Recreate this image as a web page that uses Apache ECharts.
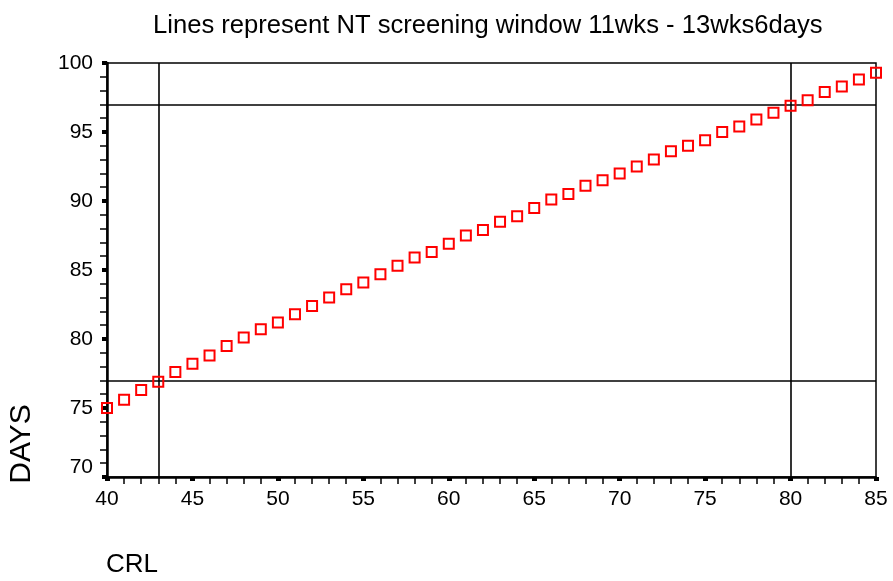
<!DOCTYPE html>
<html>
<head>
<meta charset="utf-8">
<script src="https://cdn.jsdelivr.net/npm/echarts@6/dist/echarts.min.js"></script>
<style>html,body{margin:0;padding:0;background:#fff;}#c{width:893px;height:581px;}</style>
</head>
<body>
<div id="c"></div>
<script>
var crl = [40,41,42,43,44,45,46,47,48,49,50,51,52,53,54,55,56,57,58,59,60,61,62,63,64,65,66,67,68,69,70,71,72,73,74,75,76,77,78,79,80,81,82,83,84,85];
var days = [75.0,75.6,76.3,76.9,77.6,78.2,78.8,79.5,80.1,80.7,81.2,81.8,82.4,83.0,83.6,84.1,84.7,85.3,85.9,86.3,86.9,87.5,87.9,88.5,88.9,89.5,90.1,90.5,91.1,91.5,92.0,92.5,93.0,93.6,94.0,94.4,95.0,95.4,95.9,96.4,96.9,97.3,97.9,98.3,98.8,99.3];
var windowCRL = [43, 80];
var windowDays = [77, 97];
var titleText = 'Lines represent NT screening window 11wks - 13wks6days';
var xName = 'CRL';
var yName = 'DAYS';

var font = '"Liberation Sans", Arial, sans-serif';
var chart = echarts.init(document.getElementById('c'));
var pts = crl.map(function (x, i) { return [x, days[i]]; });
var mlData = windowCRL.map(function (v) { return { xAxis: v }; })
  .concat(windowDays.map(function (v) { return { yAxis: v }; }));

chart.setOption({
  animation: false,
  backgroundColor: '#fff',
  title: {
    text: titleText, left: 148, top: 8,
    textStyle: { fontFamily: font, fontSize: 25.6, fontWeight: 'normal', color: '#000' }
  },
  grid: { left: 107, right: 17, top: 63, bottom: 104, show: true, borderColor: '#000', borderWidth: 1.5, backgroundColor: 'transparent' },
  xAxis: {
    type: 'value', min: 40, max: 85, interval: 5,
    axisLine: { show: true, lineStyle: { color: '#000', width: 2.5 } },
    axisTick: { show: true, inside: false, length: 4, lineStyle: { color: '#000', width: 5 } },
    minorTick: { show: true, splitNumber: 5, length: 7, lineStyle: { color: '#000', width: 1.5 } },
    axisLabel: { margin: 12, fontFamily: font, fontSize: 21, color: '#000' },
    splitLine: { show: false }
  },
  yAxis: {
    type: 'value', min: 70, max: 100, interval: 5,
    axisLine: { show: true, lineStyle: { color: '#000', width: 2.5 } },
    axisTick: { show: true, inside: false, length: 5, lineStyle: { color: '#000', width: 4 } },
    minorTick: { show: true, splitNumber: 5, length: 7, lineStyle: { color: '#000', width: 1.5 } },
    axisLabel: {
      margin: 14, fontFamily: font, fontSize: 21, color: '#000',
      formatter: function (v) { return v === 70 ? '{lo|' + v + '}' : String(v); },
      rich: { lo: { fontFamily: font, fontSize: 21, color: '#000', padding: [0, 0, 20, 0] } }
    },
    splitLine: { show: false }
  },
  graphic: [
    { type: 'text', x: 22, y: 444, rotation: Math.PI / 2,
      style: { text: yName, font: '30px ' + font, fill: '#000', align: 'center', verticalAlign: 'middle' } },
    { type: 'text', left: 106, top: 552, style: { text: xName, font: '26px ' + font, fill: '#000' } }
  ],
  series: [{
    type: 'scatter',
    data: pts,
    symbol: 'rect',
    symbolSize: 10,
    itemStyle: { color: 'transparent', borderColor: '#ff0000', borderWidth: 2, opacity: 1 },
    markLine: {
      silent: true, symbol: 'none', label: { show: false },
      lineStyle: { color: '#000', width: 1.6, type: 'solid' },
      data: mlData
    },
    z: 5
  }]
});
</script>
</body>
</html>
